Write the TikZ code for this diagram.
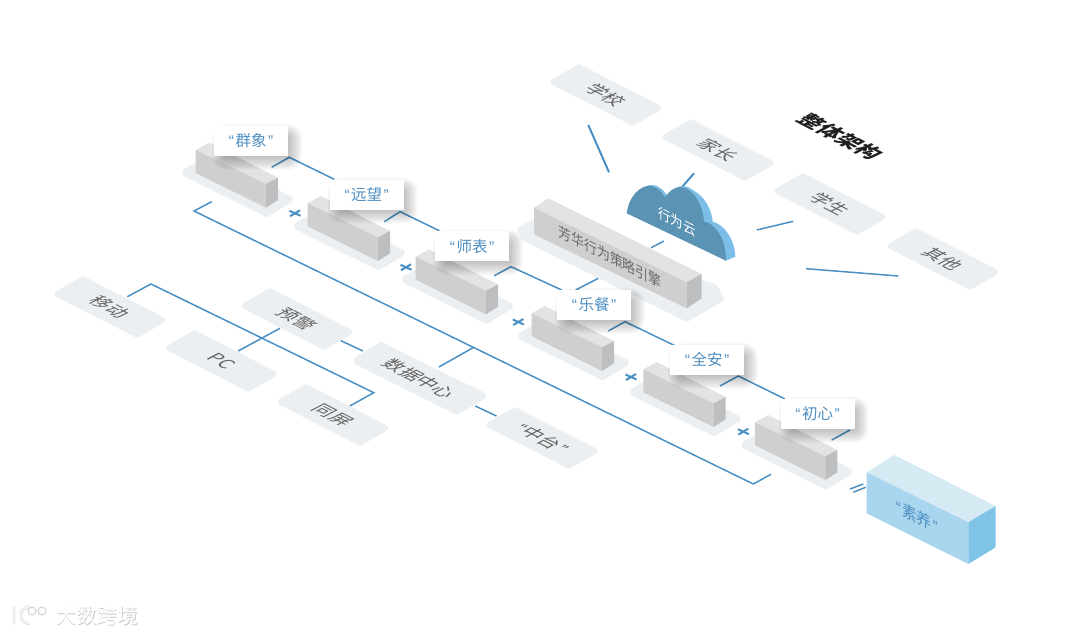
\documentclass[tikz,border=0pt]{standalone}
\usepackage{fontspec}
\setmainfont{Noto Sans CJK SC}
\newfontfamily\quotefont{Liberation Sans}
\usepackage{xcolor}
\usepackage{tikz}
\usetikzlibrary{calc}
\definecolor{linkblue}{HTML}{4A90C4}
\definecolor{labelblue}{HTML}{4F8FC2}
\definecolor{platecol}{HTML}{ECEFF2}
\definecolor{blocktop}{HTML}{E4E3E2}
\definecolor{blockfront}{HTML}{CFCFCF}
\definecolor{blockside}{HTML}{BDBEC0}
\definecolor{cloudfront}{HTML}{5B93B5}
\definecolor{cloudedge}{HTML}{7BBFE8}
\definecolor{bigtop}{HTML}{D6EAF4}
\definecolor{bigfront}{HTML}{A9D5EF}
\definecolor{bigside}{HTML}{7FC4E6}
\tikzset{
  link/.style={linkblue,line width=1.5pt},
  linkthick/.style={linkblue,line width=2pt},
  floortext/.style={cm={.88,-.46,.88,.46,(0,0)},inner sep=0pt,text=black!62,font=\fontsize{18.5}{18.5}\selectfont},
  facetext/.style={cm={.89,-.45,0,1,(0,0)},inner sep=0pt},
  labelcard/.style={fill=white,minimum width=74pt,minimum height=30pt,inner sep=0pt,text=labelblue,
    font=\fontsize{15.5}{15.5}\selectfont},
}
\newcommand{\qname}[1]{{\quotefont “}\kern1.5pt#1\kern1.5pt{\quotefont ”}}
% floor plate with its text
\newcommand{\plate}[3]{%
  \fill[platecol,rounded corners=1pt] (#2) ++(-55,-15) -- ++(28,-16) -- ++(82,42) -- ++(0,4) -- ++(-28,16) -- ++(-82,-42) -- cycle;
  \node[floortext] (#1) at (#2) {#3};}
% gray block on its plate
\newcommand{\smallblock}[2]{%
  \begin{scope}[shift={(#1,#2)}]
  \fill[platecol,rounded corners=1pt] (-13,20)--(14,5)--(97,47.3)--(97,51.7)--(71,67.3)--(-13,25.7)--cycle;
  \fill[blocktop] (0,0)--(13.3,-7.3)--(82.3,27.7)--(70.3,34)--cycle;
  \fill[blockfront] (0,0)--(70.3,34)--(70.3,57.7)--(0,23)--cycle;
  \fill[blockside] (70.3,34)--(82.3,27.7)--(82.3,50)--(70.3,57.7)--cycle;
  \end{scope}}
% soft shadow under a label card
\newcommand{\cardshadow}[2]{%
  \foreach \r in {1,...,14}{
    \fill[black,opacity=.02,rounded corners=\r pt] ($(#1,#2)+(6-31-\r,6-9-\r)$) rectangle ($(#1,#2)+(6+31+\r,6+9+\r)$);
  }}
\newcommand{\crossmark}[2]{%
  \draw[linkthick] (#1,#2) ++(-5.5,-2.5) -- ++(11,5);
  \draw[linkthick] (#1,#2) ++(-5,3) -- ++(10,-6);}
\newcommand{\cloudpath}{(626.7,213.3) .. controls (629,196) and (640,185) .. (651,186) .. controls (657,187) and (662,192) .. (665,197.3) .. controls (670,190) and (676,186.5) .. (681,187) .. controls (693,188) and (703,205) .. (704,221.7) .. controls (712,222) and (726,235) .. (726,260.7) -- cycle}

\begin{document}
\begin{tikzpicture}[x=1pt,y=-1pt]
\useasboundingbox (0,0) rectangle (1080,636);
% top group
\plate{school}{606,95}{学校}
\plate{parent}{718,150}{家长}
\plate{student}{830,204}{学生}
\plate{others}{943,259}{其他}
\node[cm={.88,-.46,.88,.46,(0,0)},inner sep=0pt,text=black!88,font=\fontsize{21.5}{21.5}\selectfont\bfseries] (title) at (840.5,136.7) {整体架构};
% left group
\plate{mobile}{110,307}{移动}
\plate{pc}{221.5,361}{PC}
\plate{screen}{333,415}{同屏}
\plate{alert}{297,319}{预警}
\plate{midstage}{542,438}{\qname{中台}}
\fill[platecol,rounded corners=1pt] (353.5,358.3)--(381,341.7)--(485.5,393.3)--(485.5,398.3)--(457,415)--(353.5,363.3)--cycle;
\node[floortext] (datacenter) at (419.5,378.5) {数据中心};
% blocks
\smallblock{195.7}{150}
\smallblock{307.7}{203.3}
\smallblock{415.7}{256.7}
\smallblock{531.7}{313.3}
\smallblock{643.3}{369.3}
\smallblock{755}{422.3}
% engine
\fill[platecol,rounded corners=1pt] (517,228)--(534,219)--(717,285)--(725,300)--(687,322)--(522,240)--cycle;
\fill[blocktop] (534,207.7)--(548.3,198.3)--(701.7,274)--(686.7,282.3)--cycle;
\fill[blockfront] (534,207.7)--(686.7,282.3)--(686.7,308.3)--(534,234.3)--cycle;
\fill[blockside] (686.7,282.3)--(701.7,274)--(701.7,298.3)--(686.7,308.3)--cycle;
\node[facetext,text=black!58,font=\fontsize{14.5}{14.5}\selectfont] (engine) at (610,256.7) {芳华行为策略引擎};
% connectors
\coordinate (cSchoolA) at (588.3,125);
\coordinate (cSchoolB) at (609,172.3);
\coordinate (cParentA) at (682.3,186.7);
\coordinate (cParentB) at (694,173.3);
\coordinate (cStudentA) at (756.7,230);
\coordinate (cStudentB) at (793.3,221.3);
\coordinate (cOthersA) at (806,268.7);
\coordinate (cOthersB) at (898.3,276);
\coordinate (cEngineA) at (651,247.7);
\coordinate (cEngineB) at (664,241);
\coordinate (cDinnerA) at (575.7,290);
\coordinate (cDinnerB) at (598.3,278.3);
\draw[linkthick] (cSchoolA)--(cSchoolB);
\draw[linkthick] (cParentA)--(cParentB);
\draw[link] (cStudentA)--(cStudentB);
\draw[link] (cOthersA)--(cOthersB);
\draw[link] (cEngineA)--(cEngineB);
\draw[link] (cDinnerA)--(cDinnerB);
% cloud
\fill[cloudedge,shift={(2.5,-1)}] \cloudpath;
\fill[cloudedge] (680,187) .. controls (697,187) and (711,203) .. (712.7,221.7) .. controls (724,224) and (735,240) .. (735.3,256.7) -- (726,260.7) -- (690,230) -- cycle;
\fill[cloudfront] \cloudpath;
\node[facetext,text=white,font=\fontsize{14}{14}\selectfont] (cloud) at (677,221.7) {行为云};
% chain of labels
\coordinate (q1) at (271.7,167.3);
\coordinate (q2) at (289.3,157.3);
\coordinate (q3) at (334.3,179.3);
\coordinate (y1) at (384.3,221.7);
\coordinate (y2) at (400,211.7);
\coordinate (y3) at (439.3,230.7);
\coordinate (s1) at (494.3,275.7);
\coordinate (s2) at (511,266.7);
\coordinate (s3) at (561.7,290);
\coordinate (l1) at (608.3,331);
\coordinate (l2) at (625,321.7);
\coordinate (l3) at (675,345.7);
\coordinate (a1) at (720,386);
\coordinate (a2) at (738.3,376);
\coordinate (a3) at (785,399);
\coordinate (c1) at (831.7,440);
\coordinate (c2) at (850,430);
\draw[link] (q1)--(q2)--(q3);
\draw[link] (y1)--(y2)--(y3);
\draw[link] (s1)--(s2)--(s3);
\draw[link] (l1)--(l2)--(l3);
\draw[link] (a1)--(a2)--(a3);
\draw[link] (c1)--(c2);
\cardshadow{251}{141}
\cardshadow{366.7}{194.7}
\cardshadow{472}{246.3}
\cardshadow{594}{305}
\cardshadow{707}{360}
\cardshadow{817.5}{414}
\node[labelcard] (crowd) at (251,141) {\qname{群象}};
\node[labelcard] (vision) at (366.7,194.7) {\qname{远望}};
\node[labelcard] (teacher) at (472,246.3) {\qname{师表}};
\node[labelcard] (dinner) at (594,305) {\qname{乐餐}};
\node[labelcard] (safety) at (707,360) {\qname{全安}};
\node[labelcard] (origin) at (817.5,414) {\qname{初心}};
\crossmark{295}{213.3}
\crossmark{406}{267.3}
\crossmark{518.3}{322}
\crossmark{631}{377}
\crossmark{743.3}{431.7}
% long frame and left links
\coordinate (f1) at (211.7,201.7);
\coordinate (f2) at (194,211);
\coordinate (f3) at (753.3,484);
\coordinate (f4) at (771,474.3);
\coordinate (f5) at (438.9,367);
\coordinate (f6) at (473.4,347.5);
\draw[link] (f1)--(f2)--(f3)--(f4);
\draw[link] (f5)--(f6);
\coordinate (m1) at (127.3,296.7);
\coordinate (m2) at (151,284);
\coordinate (m3) at (373.8,392.7);
\coordinate (m4) at (349.8,406);
\draw[link] (m1)--(m2)--(m3)--(m4);
\coordinate (p1) at (238.2,351);
\coordinate (p2) at (280,328.3);
\draw[link] (p1)--(p2);
\coordinate (d1) at (341,340.7);
\coordinate (d2) at (362.9,351);
\coordinate (d3) at (475.3,406);
\coordinate (d4) at (496.4,416);
\draw[link] (d1)--(d2);
\draw[link] (d3)--(d4);
% equals sign
\coordinate (e1) at (850,489);
\coordinate (e2) at (863.3,484);
\coordinate (e3) at (853.3,492.3);
\coordinate (e4) at (865.7,487.3);
\draw[link] (e1)--(e2);
\draw[link] (e3)--(e4);
% big block
\fill[bigtop] (866.7,472.3)--(894.3,455)--(995.7,506)--(968.3,522.3)--cycle;
\fill[bigfront] (866.7,472.3)--(968.3,522.3)--(968.3,564)--(866.7,513.3)--cycle;
\fill[bigside] (968.3,522.3)--(995.7,506)--(995.7,547.3)--(968.3,564)--cycle;
\node[facetext,text=labelblue,font=\fontsize{16.5}{16.5}\selectfont] (literacy) at (916.7,516.7) {\qname{素养}};
% watermark
\draw[black!18,line width=2.4pt] (14,606)--(14,624) (30,607) .. controls (18,606) and (18,624) .. (30,624);
\draw[white,line width=1.2pt] (14,606)--(14,624) (30,607) .. controls (18,606) and (18,624) .. (30,624);
\draw[black!18,line width=1pt,fill=white] (32,611) circle (4) (42,611) circle (4);
\node[anchor=west,inner sep=0pt,text=black!22,font=\fontsize{20.5}{20.5}\selectfont] at (56.6,616.6) {大数跨境};
\node[anchor=west,inner sep=0pt,text=white,font=\fontsize{20.5}{20.5}\selectfont] (mark) at (56,616) {大数跨境};
\end{tikzpicture}
\end{document}
